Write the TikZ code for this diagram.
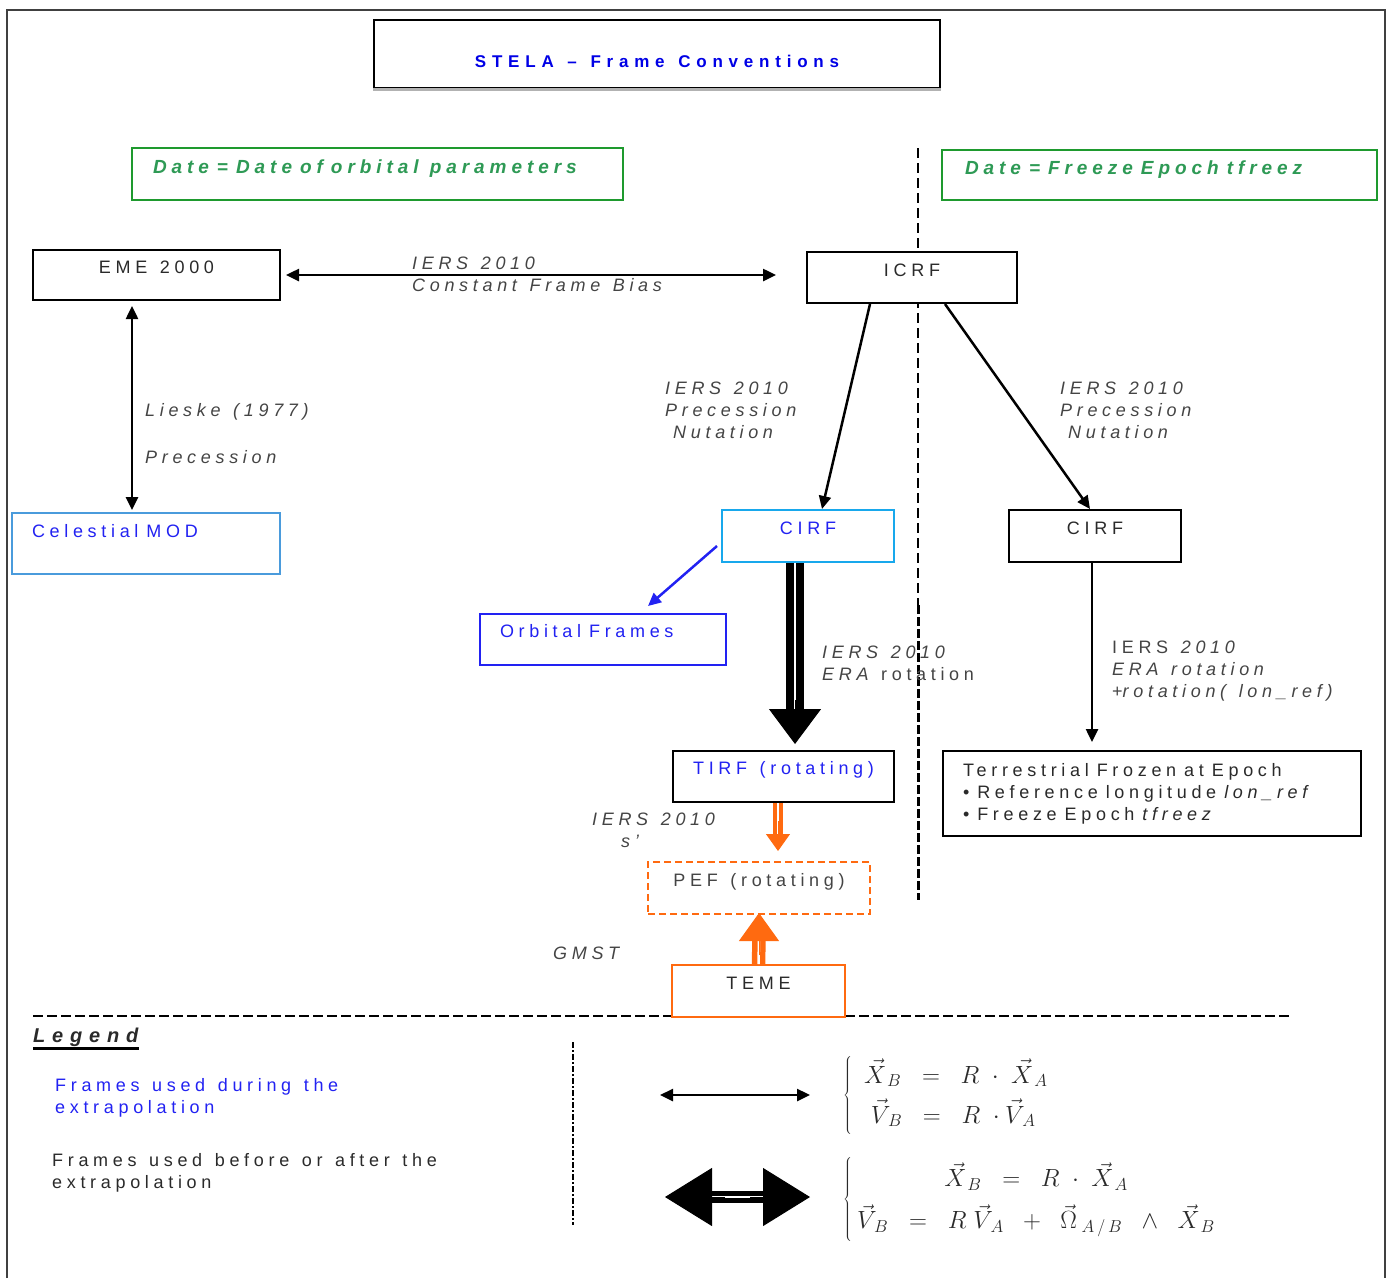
\documentclass[tikz,border=0pt]{standalone}
\usepackage{fontspec}
\setmainfont{Liberation Sans}[LetterSpace=26, WordSpace=1.3]
\newfontfamily\titlefont{Liberation Sans}[LetterSpace=34, WordSpace=1.3]
\usetikzlibrary{arrows.meta, calc}
\definecolor{stTitle}{HTML}{0000E6}
\definecolor{stBlue}{HTML}{2222F2}
\definecolor{stCyan}{HTML}{18A8EC}
\definecolor{stSky}{HTML}{4A9BDC}
\definecolor{stGreen}{HTML}{1E9A2E}
\definecolor{stGreenTxt}{HTML}{2E9A55}
\definecolor{stOrange}{HTML}{FF6A10}
\definecolor{stInk}{HTML}{2A2A2A}
\definecolor{stGrey}{HTML}{444444}
\newcommand{\gap}{\spaceskip=8pt plus 2pt\relax}

\begin{document}
\begin{tikzpicture}[
    x=1pt, y=-1pt,
    every node/.style={font=\fontsize{18}{22}\selectfont, text=stInk},
    frm/.style={draw=black, line width=2pt, fill=white, inner sep=0pt,
                text height=13pt, text depth=16pt},
    datebox/.style={frm, draw=stGreen, text depth=14pt, align=left,
                    font=\fontsize{19}{22}\selectfont\bfseries\itshape, text=stGreenTxt},
    lbl/.style={anchor=west, align=left, inner sep=0pt,
                font=\fontsize{18}{22}\selectfont\itshape, text=stGrey},
    >={Triangle[length=13pt, width=12pt]},
    arr/.style={line width=2.5pt, draw=black},
    shaft/.style={double=white, draw=black},
  ]
  \useasboundingbox (0,0) rectangle (1390,1278);
  \draw[line width=2pt, draw=black!75] (7,1278) -- (7,10) -- (1385,10) -- (1385,1278);

  % dividers
  \draw[line width=1.5pt, dash pattern=on 10pt off 5pt] (918,148) -- (918,605);
  \draw[line width=3pt, dash pattern=on 9pt off 3pt] (918,605) -- (918,900);
  \draw[line width=2pt, dash pattern=on 10pt off 4pt] (33,1016) -- (1290,1016);
  \draw[line width=2.5pt, dash pattern=on 6pt off 2pt on 2pt off 2pt] (573,1042) -- (573,1225);

  \node[frm, minimum width=566pt, minimum height=68pt, text height=30pt, text depth=3pt,
        font=\fontsize{17}{20}\titlefont\bfseries, text=stTitle] (title) at (657,54)
    {STELA – Frame Conventions};
  \draw[black!30, line width=3pt] (title.south west) -- (title.south east);

  \node[datebox, minimum width=491pt, minimum height=52pt, text width=449pt] (dateOrb) at (377.5,174)
    {\gap Date = Date of orbital\, parameters};
  \node[datebox, minimum width=435pt, minimum height=50pt, text width=389pt] (dateFrz) at (1159.5,175)
    {\gap Date = Freeze Epoch tfreez};

  \node[frm, minimum width=247pt, minimum height=50pt] (eme) at (156.5,275) {EME 2000};
  \node[frm, minimum width=210pt, minimum height=51pt] (icrf) at (912,277.5) {ICRF};
  \node[frm, draw=stSky, minimum width=268pt, minimum height=61pt, text depth=25pt,
        text width=228pt, align=left, text=stBlue] (mod) at (146,543.5) {\gap Celestial MOD};
  \node[frm, draw=stCyan, minimum width=172pt, minimum height=52pt, text=stBlue] (cirfA) at (808,536) {CIRF};
  \node[frm, minimum width=172pt, minimum height=52pt] (cirfB) at (1095,536) {CIRF};
  \node[frm, draw=stBlue, minimum width=246pt, minimum height=51pt, text depth=17pt,
        text width=206pt, align=left, text=stBlue] (orb) at (603,639.5) {\gap Orbital Frames};
  \node[frm, minimum width=221pt, minimum height=51pt, text depth=17pt, text=stBlue] (tirf) at (783.5,776.5)
    {TIRF (rotating)};
  \node[draw=black, line width=2pt, fill=white, inner sep=0pt, minimum width=418pt, minimum height=85pt,
        text width=378pt, align=left] (terr) at (1152,793.5)
    {\gap Terrestrial Frozen at Epoch\\\textbullet\ Reference longitude \textit{lon\_ref}\\\textbullet\ Freeze Epoch \textit{tfreez}};
  \node[frm, draw=stOrange, dashed, dash pattern=on 7pt off 4pt, minimum width=222pt, minimum height=52pt,
        text=stGrey] (pef) at (759,888) {PEF (rotating)};
  \node[frm, draw=stOrange, minimum width=173pt, minimum height=52pt] (teme) at (758.5,991) {TEME};

  \draw[arr, <->, shorten <=5pt, shorten >=30pt] (eme.east) -- (eme.east -| icrf.west);
  \draw[arr, <->, shorten <=5pt, shorten >=2pt] ([xshift=-24.5pt]eme.south) -- ([xshift=-24.5pt]eme.south |- mod.north);
  \draw[arr, ->] ([xshift=-42pt]icrf.south) -- ([xshift=14pt]cirfA.north);
  \draw[arr, ->] ([xshift=33pt]icrf.south) -- ([xshift=-5pt]cirfB.north);
  \draw[arr, ->, draw=stBlue] ([xshift=-4pt,yshift=-10pt]cirfA.west) -- ([xshift=45pt,yshift=7pt]orb.north);
  \draw[arr, ->] ([xshift=-3pt]cirfB.south) -- ([xshift=-60pt,yshift=8pt]terr.north);

  \draw[shaft, line width=8pt, double distance=2.5pt] ([xshift=-13pt]cirfA.south) -- ([xshift=11.5pt,yshift=38pt]tirf.north);
  \draw[-{Triangle[length=35pt, width=52pt]}, line width=1pt] ([xshift=11.5pt,yshift=50pt]tirf.north) -- ([xshift=11.5pt,yshift=6pt]tirf.north);

  \draw[shaft, draw=stOrange, line width=4pt, double distance=2pt] ([xshift=-5.5pt]tirf.south) -- ([xshift=19pt,yshift=26pt]pef.north);
  \draw[-{Triangle[length=17pt, width=24pt]}, draw=stOrange, fill=stOrange, line width=1pt] ([xshift=19pt,yshift=40pt]pef.north) -- ([xshift=19pt,yshift=10pt]pef.north);
  \draw[shaft, draw=stOrange, line width=5.5pt, double distance=2.5pt] (teme.north) -- ([yshift=-24pt]pef.south);
  \draw[-{Triangle[length=28pt, width=40pt]}, draw=stOrange, fill=stOrange, line width=1pt] ([yshift=-40pt]pef.south) -- ([yshift=2pt]pef.south);

  \node[lbl] (lblBias) at (412,274.5) {IERS 2010\\Constant Frame Bias};
  \node[lbl] (lblLieske) at (145,412) {Lieske (1977)};
  \node[lbl] (lblPrec) at (145,457) {Precession};
  \node[lbl] (lblNutA) at (665,410) {IERS 2010\\Precession\\\hspace*{8pt}Nutation};
  \node[lbl] (lblNutB) at (1060,410) {IERS 2010\\Precession\\\hspace*{8pt}Nutation};
  \node[lbl] (lblEra) at (822,663.5) {IERS 2010\\ERA {\upshape rotation}};
  \node[lbl] (lblEraB) at (1112,671) {{\upshape IERS} 2010\\ERA rotation\\{\upshape +}rotation( lon\_ref)};
  \node[lbl] (lblSp) at (592,830.5) {IERS 2010\\\hspace*{29pt}s'};
  \node[lbl] (lblGmst) at (553,953) {GMST};

  % legend
  \node[anchor=west, inner sep=0pt, font=\fontsize{20}{24}\titlefont\bfseries\itshape] (legend) at (33,1037) {Legend};
  \draw[line width=2.5pt] ([yshift=-2pt]legend.south west) -- ([yshift=-2pt]legend.south east);
  \node[anchor=west, inner sep=0pt, align=left, text=stBlue] (legDuring) at (55,1098) {Frames used during the\\extrapolation};
  \node[anchor=west, inner sep=0pt, align=left] (legBefore) at (52,1173) {Frames used before or after the\\extrapolation};

  \coordinate (thinL) at (660,1095);
  \coordinate (thinR) at (810,1095);
  \draw[arr, <->] (thinL) -- (thinR);
  \coordinate (thickL) at (665,1197);
  \coordinate (thickR) at (810,1197);
  \draw[shaft, line width=5pt, double distance=2pt] ([xshift=40pt]thickL) -- ([xshift=-40pt]thickR);
  \draw[-{Triangle[length=47pt, width=58pt]}, line width=1pt] ([xshift=60pt]thickL) -- (thickL);
  \draw[-{Triangle[length=47pt, width=58pt]}, line width=1pt] ([xshift=-60pt]thickR) -- (thickR);

  \node[anchor=west, inner sep=0pt, font=\fontsize{23}{28}\selectfont] (eqThin) at (843,1095)
    {\renewcommand{\arraystretch}{1.43}$\left\{\begin{array}{l}
      \;\vec{X}_{\,B} \;\;=\;\; R\;\cdot\;\vec{X}_{\,A}\\
      \;\;\vec{V}_{\,B} \;\;=\;\; R\;\cdot\vec{V}_{\,A}
    \end{array}\right.$};
  \node[anchor=west, inner sep=0pt, font=\fontsize{23}{28}\selectfont] (eqThick) at (843,1199)
    {\renewcommand{\arraystretch}{1.5}$\left\{\begin{array}{c}
      \vec{X}_{\,B} \;\;=\;\; R\;\cdot\;\vec{X}_{\,A}\\
      \vec{V}_{\,B} \;\;=\;\; R\;\vec{V}_{\,A} \;\;+\;\; \vec{\Omega}_{\;A\,/\,B} \;\;\wedge\;\; \vec{X}_{\,B}
    \end{array}\right.$};
\end{tikzpicture}
\end{document}
